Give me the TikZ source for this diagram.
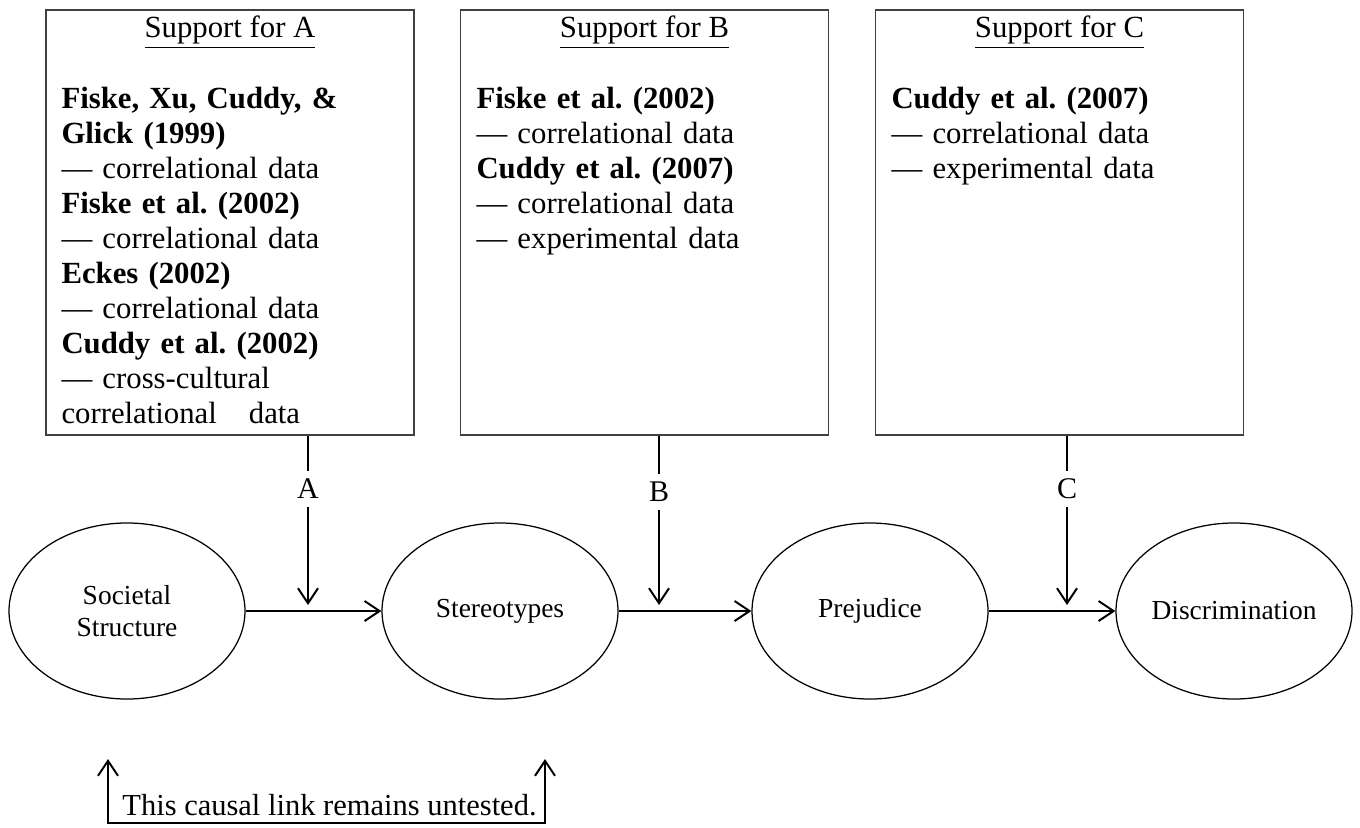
\documentclass[tikz,border=0pt]{standalone}
\usepackage{fontspec}
\setmainfont{Liberation Serif}
\frenchspacing
\usetikzlibrary{arrows.meta,shapes.geometric}
\begin{document}
\begin{tikzpicture}[x=0.4pt,y=-0.4pt,
  supbox/.style={draw=black!75, line width=0.6pt, minimum width=147.2pt, minimum height=170pt, inner sep=0pt},
  boxtext/.style={anchor=base west, inner sep=0pt, text width=136pt, align=left, font=\fontsize{12.3}{14}\selectfont},
  boxtitle/.style={anchor=base, inner sep=0pt, font=\fontsize{12.3}{14}\selectfont},
  ell/.style={draw, ellipse, line width=0.5pt, minimum width=94.4pt, minimum height=70.4pt, inner sep=0pt, align=center, font=\fontsize{11}{12.8}\selectfont},
  lab/.style={inner sep=3pt, font=\fontsize{12}{14}\selectfont},
  conn/.style={line width=0.8pt},
  arr/.style={conn, -{Straight Barb[length=6pt,width=8pt]}}]
\useasboundingbox (0,0) rectangle (1360,827);

% support boxes
\node[supbox] (boxA) at (230,222.5) {};
\node[supbox] (boxB) at (644.5,222.5) {};
\node[supbox] (boxC) at (1059.5,222.5) {};

\node[boxtitle] (titA) at (230,37) {\underline{Support for A}};
\node[boxtitle] (titB) at (644.5,37) {\underline{Support for B}};
\node[boxtitle] (titC) at (1059.5,37) {\underline{Support for C}};

\node[boxtext] (txtA) at (61,108) {\textbf{Fiske, Xu, Cuddy, \&}\\
\textbf{Glick (1999)}\\
— correlational data\\
\textbf{Fiske et al. (2002)}\\
— correlational data\\
\textbf{Eckes (2002)}\\
— correlational data\\
\textbf{Cuddy et al. (2002)}\\
— cross-cultural\\
correlational\hspace{12.8pt}data};

\node[boxtext] (txtB) at (476,108) {\textbf{Fiske et al. (2002)}\\
— correlational data\\
\textbf{Cuddy et al. (2007)}\\
— correlational data\\
— experimental data};

\node[boxtext] (txtC) at (891,108) {\textbf{Cuddy et al. (2007)}\\
— correlational data\\
— experimental data};

% ellipses
\node[ell] (e1) at (127,611) {Societal\\Structure};
\node[ell] (e2) at (500,611) {Stereotypes};
\node[ell] (e3) at (870,611) {Prejudice};
\node[ell] (e4) at (1234,611) {Discrimination};

\draw[arr] (e1) -- (e2);
\draw[arr] (e2) -- (e3);
\draw[arr] (e3) -- (e4);

% labels A, B, C
\node[lab] (labA) at (308,489) {A};
\node[lab] (labB) at (659,492) {B};
\node[lab] (labC) at (1067,489) {C};
\coordinate (tipA) at (308,605);
\coordinate (tipB) at (659,605);
\coordinate (tipC) at (1067,605);

\draw[conn] (boxA.south -| labA) -- (labA);
\draw[conn] (boxB.south -| labB) -- (labB);
\draw[conn] (boxC.south -| labC) -- (labC);
\draw[arr] (labA) -- (tipA);
\draw[arr] (labB) -- (tipB);
\draw[arr] (labC) -- (tipC);

% untested link
\node[anchor=base, inner sep=0pt, font=\fontsize{12.2}{14}\selectfont] (note) at (329.5,815) {This causal link remains untested.};
\coordinate (tl) at (108,759);
\coordinate (bl) at (108,823);
\coordinate (br) at (545,823);
\coordinate (tr) at (545,759);
\draw[conn, {Straight Barb[length=6pt,width=8pt]}-{Straight Barb[length=6pt,width=8pt]}] (tl) -- (bl) -- (br) -- (tr);
\end{tikzpicture}
\end{document}
